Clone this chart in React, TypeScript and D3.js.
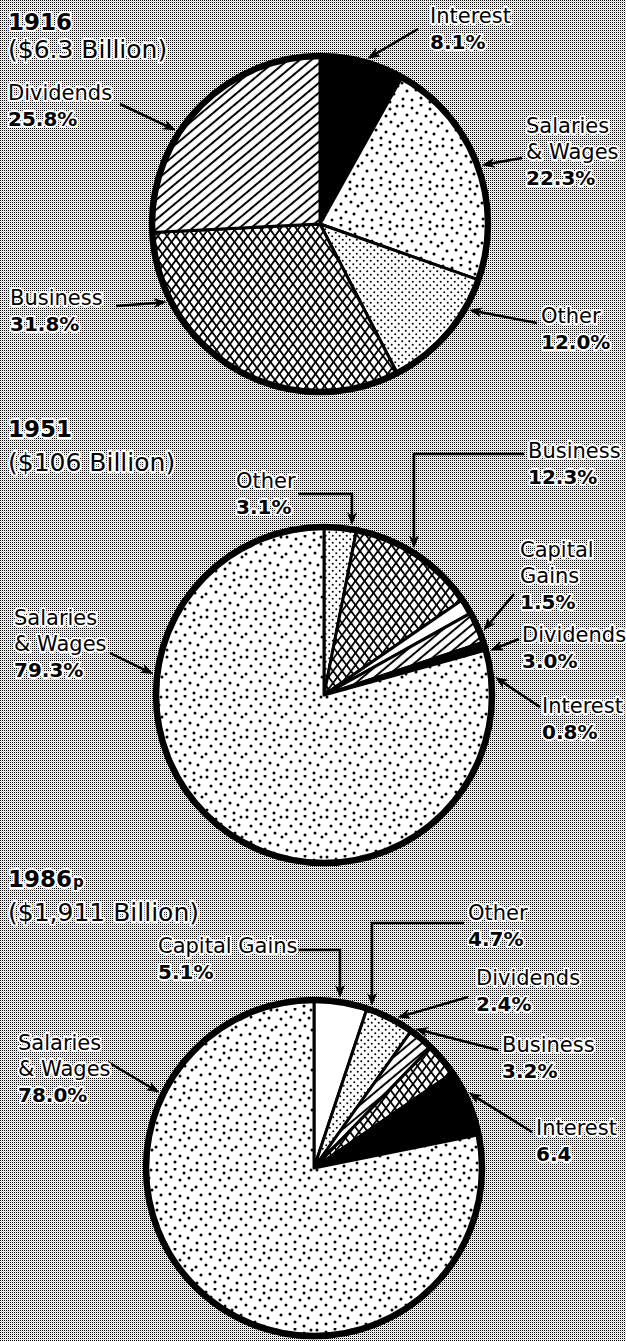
import React from 'react';
import * as d3 from 'd3';

const W = 626;
const H = 1341;

// titles
const years = ['1916', '1951', '1986'];
const yearSuffix = ['', '', 'p'];
const totals = ['($6.3 Billion)', '($106 Billion)', '($1,911 Billion)'];

// 1916
const categories1916 = ['Interest', 'Salaries & Wages', 'Other', 'Business', 'Dividends'];
const values1916 = [8.1, 22.3, 12.0, 31.8, 25.8];
const valueLabels1916 = ['8.1%', '22.3%', '12.0%', '31.8%', '25.8%'];

// 1951
const categories1951 = ['Other', 'Business', 'Capital Gains', 'Dividends', 'Interest', 'Salaries & Wages'];
const values1951 = [3.1, 12.3, 1.5, 3.0, 0.8, 79.3];
const valueLabels1951 = ['3.1%', '12.3%', '1.5%', '3.0%', '0.8%', '79.3%'];

// 1986 (preliminary)
const categories1986 = ['Capital Gains', 'Other', 'Dividends', 'Business', 'Interest', 'Salaries & Wages'];
const values1986 = [5.1, 4.7, 2.4, 3.2, 6.4, 78.0];
const valueLabels1986 = ['5.1%', '4.7%', '2.4%', '3.2%', '6.4', '78.0%'];

const fills = {
  'Interest': '#000',
  'Salaries & Wages': 'url(#sparse)',
  'Other': 'url(#dense)',
  'Business': 'url(#hatch)',
  'Dividends': 'url(#diag)',
  'Capital Gains': '#fff',
};

// label layout, same order as the categories
const layout1916 = [
  { x: 430, y: 23, tail: [418, 29], tipAngle: 16 },
  { x: 526, y: 133, tail: [522, 158], tipAngle: 70 },
  { x: 541, y: 323, tail: [537, 323], tipAngle: 120 },
  { x: 10, y: 305, tail: [116, 306], tipAngle: 243 },
  { x: 8, y: 100, tail: [120, 104], tipAngle: 303 },
];
const layout1951 = [
  { x: 236, y: 488, tail: [298, 494], corner: [352, 494], tipX: 352 },
  { x: 528, y: 458, tail: [524, 454], corner: [414, 454], tipX: 414 },
  { x: 520, y: 557, tail: [514, 594], tipAngle: 68, wrap: true },
  { x: 522, y: 642, tail: [519, 639], tipAngle: 75 },
  { x: 542, y: 713, tail: [540, 707], tipAngle: 84 },
  { x: 14, y: 625, tail: [110, 653], tipAngle: 277 },
];
const layout1986 = [
  { x: 158, y: 953, tail: [296, 950], corner: [340, 950], tipX: 340 },
  { x: 468, y: 920, tail: [464, 923], corner: [372, 923], tipX: 372 },
  { x: 476, y: 985, tail: [468, 997], tipAngle: 29 },
  { x: 502, y: 1052, tail: [498, 1050], tipAngle: 36 },
  { x: 536, y: 1135, tail: [532, 1132], tipAngle: 64 },
  { x: 18, y: 1050, tail: [108, 1062], tipAngle: 296 },
];

const pies = [
  { cats: categories1916, vals: values1916, vlabels: valueLabels1916, lay: layout1916, cx: 320, cy: 224, r: 168, titleY: 30, subY: 58 },
  { cats: categories1951, vals: values1951, vlabels: valueLabels1951, lay: layout1951, cx: 324, cy: 695, r: 168, titleY: 437, subY: 471 },
  { cats: categories1986, vals: values1986, vlabels: valueLabels1986, lay: layout1986, cx: 314, cy: 1168, r: 168, titleY: 887, subY: 921 },
];

const font = '"DejaVu Sans", sans-serif';
const halo = { stroke: '#fff', strokeWidth: 4, paintOrder: 'stroke', strokeLinejoin: 'round' } as any;

function nameLines(cat: string, wrap?: boolean) {
  if (cat === 'Salaries & Wages') return ['Salaries', '& Wages'];
  if (wrap) return cat.split(' ');
  return [cat];
}

function arrowPaths(points: number[][]) {
  const n = points.length;
  const [tx, ty] = points[n - 1];
  const [px, py] = points[n - 2];
  const len = Math.hypot(tx - px, ty - py);
  const ux = (tx - px) / len;
  const uy = (ty - py) / len;
  const L = 13;
  const hw = 5;
  const bx = tx - ux * L;
  const by = ty - uy * L;
  const head = [
    [tx, ty],
    [bx - uy * hw, by + ux * hw],
    [tx - ux * (L - 3.5), ty - uy * (L - 3.5)],
    [bx + uy * hw, by - ux * hw],
  ];
  const linePts = [...points.slice(0, n - 1), [tx - ux * (L - 5), ty - uy * (L - 5)]];
  return { line: d3.line()(linePts as any), head: d3.line()(head as any) + 'Z' };
}

function Pie({ p, i }: any) {
  const arcs = d3.pie<number>().sort(null).value(d => d)(p.vals);
  const arc = d3.arc<any>().innerRadius(0).outerRadius(p.r);
  const rim = p.r + 4;
  const lh = 26;

  return (
    <g>
      <text x={8} y={p.titleY} fontFamily={font} fontWeight="bold" fontSize={23} {...halo}>
        {years[i]}
        {yearSuffix[i] && <tspan fontSize={15} dx={1}>{yearSuffix[i]}</tspan>}
      </text>
      <text x={8} y={p.subY} fontFamily={font} fontSize={25} {...halo}>{totals[i]}</text>

      <g transform={`translate(${p.cx},${p.cy})`}>
        {arcs.map((a, k) => (
          <path key={k} d={arc(a) as string} fill={fills[p.cats[k]]} stroke="#000" strokeWidth={3} strokeLinejoin="round" />
        ))}
        <circle r={p.r} fill="none" stroke="#000" strokeWidth={6.5} />
      </g>

      {p.lay.map((l: any, k: number) => {
        let tip;
        if (l.tipX !== undefined) {
          const dx = l.tipX - p.cx;
          tip = [l.tipX, p.cy - Math.sqrt(rim * rim - dx * dx)];
        } else {
          const a = (l.tipAngle * Math.PI) / 180;
          tip = [p.cx + rim * Math.sin(a), p.cy - rim * Math.cos(a)];
        }
        const pts = l.corner ? [l.tail, l.corner, tip] : [l.tail, tip];
        const ar = arrowPaths(pts);
        const names = nameLines(p.cats[k], l.wrap);
        return (
          <g key={k}>
            <path d={ar.line as string} fill="none" stroke="#000" strokeWidth={2.5} />
            <path d={ar.head} fill="#000" />
            <text fontFamily={font} fontSize={21} {...halo}>
              {names.map((s, j) => (
                <tspan key={j} x={l.x} y={l.y + j * lh}>{s}</tspan>
              ))}
              <tspan x={l.x} y={l.y + names.length * lh} fontWeight="bold" fontSize={20}>{p.vlabels[k]}</tspan>
            </text>
          </g>
        );
      })}
    </g>
  );
}

export default function App() {
  // hand-placed dot positions for the loose stipple tile
  const sparseDots = [
    [3, 2], [12, 4], [21, 1], [30, 5], [37, 2],
    [7, 11], [17, 9], [26, 12], [35, 10],
    [2, 19], [12, 17], [21, 20], [31, 18], [38, 22],
    [7, 27], [16, 26], [26, 28], [34, 30],
    [3, 35], [12, 36], [21, 34], [30, 38],
  ];
  const hw = 9, hh = 12;
  const hatchLines = [-2, -1, 0, 1, 2];
  return (
    <svg width={W} height={H} style={{ position: 'absolute', left: 0, top: 0, display: 'block' }}>
      <defs>
        <pattern id="bg" width={2} height={2} patternUnits="userSpaceOnUse">
          <rect width={2} height={2} fill="#fff" />
          <rect x={0} y={0} width={1} height={1} fill="#000" />
          <rect x={1} y={1} width={1} height={1} fill="#d4d4d4" />
        </pattern>
        <pattern id="sparse" width={40} height={40} patternUnits="userSpaceOnUse">
          <rect width={40} height={40} fill="#fff" />
          {sparseDots.map(([x, y], k) => <circle key={k} cx={x} cy={y} r={1.5} fill="#000" />)}
        </pattern>
        <pattern id="dense" width={7} height={7} patternUnits="userSpaceOnUse">
          <rect width={7} height={7} fill="#fff" />
          <circle cx={1.75} cy={1.75} r={1} fill="#000" />
          <circle cx={5.25} cy={5.25} r={1} fill="#000" />
        </pattern>
        <pattern id="hatch" width={hw} height={hh} patternUnits="userSpaceOnUse">
          <rect width={hw} height={hh} fill="#fff" />
          {hatchLines.map(k => (
            <g key={k}>
              <line x1={k * hw - hw} y1={-hh} x2={k * hw + 2 * hw} y2={2 * hh} stroke="#000" strokeWidth={1.8} />
              <line x1={k * hw + 2 * hw} y1={-hh} x2={k * hw - hw} y2={2 * hh} stroke="#000" strokeWidth={1.8} />
            </g>
          ))}
        </pattern>
        <pattern id="diag" width={10} height={7.5} patternUnits="userSpaceOnUse" patternTransform="rotate(-40)">
          <rect width={10} height={7.5} fill="#fff" />
          <rect x={0} y={2.75} width={10} height={2} fill="#000" />
        </pattern>
      </defs>
      <rect width={W} height={H} fill="url(#bg)" />
      {pies.map((p, i) => <Pie key={i} p={p} i={i} />)}
    </svg>
  );
}
